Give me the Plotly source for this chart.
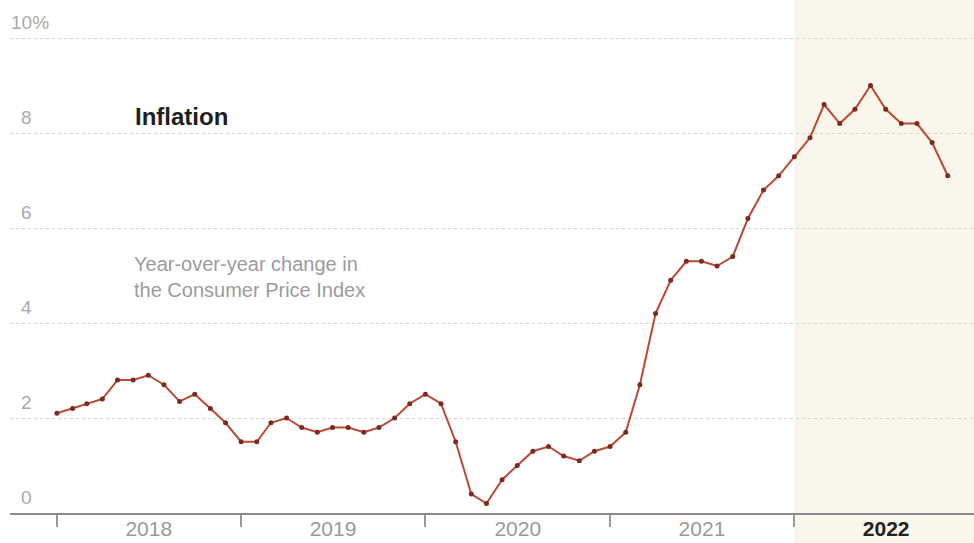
import plotly.graph_objects as go

# Monthly year-over-year CPI change, Jan 2018 - Nov 2022 (percent)
months = [f"{y}-{m:02d}-01" for y in range(2018, 2023) for m in range(1, 13)][:59]
cpi = [
    2.1, 2.2, 2.3, 2.4, 2.8, 2.8, 2.9, 2.7, 2.35, 2.5, 2.2, 1.9,  # 2018
    1.5, 1.5, 1.9, 2.0, 1.8, 1.7, 1.8, 1.8, 1.7, 1.8, 2.0, 2.3,   # 2019
    2.5, 2.3, 1.5, 0.4, 0.2, 0.7, 1.0, 1.3, 1.4, 1.2, 1.1, 1.3,   # 2020
    1.4, 1.7, 2.7, 4.2, 4.9, 5.3, 5.3, 5.2, 5.4, 6.2, 6.8, 7.1,   # 2021
    7.5, 7.9, 8.6, 8.2, 8.5, 9.0, 8.5, 8.2, 8.2, 7.8, 7.1,        # 2022
]

year_labels = ["2018", "2019", "2020", "2021", "2022"]
year_label_pos = [f"{y}-07-02" for y in year_labels]
year_starts = [f"{y}-01-01" for y in year_labels]
highlight_year = "2022"

y_ticks = [0, 2, 4, 6, 8, 10]
y_tick_text = ["0", "2", "4", "6", "8", "10%"]

title_text = "Inflation"
subtitle_text = "Year-over-year change in<br>the Consumer Price Index"

FONT = "Liberation Sans, Arial, sans-serif"

fig = go.Figure()

fig.add_trace(go.Scatter(
    x=months, y=cpi, mode="lines+markers",
    line=dict(color="#bb4a33", width=2),
    marker=dict(size=5, color="#7a2b20"),
    hoverinfo="x+y", showlegend=False,
))

# highlighted year band
fig.add_shape(type="rect", xref="x", yref="paper",
              x0=f"{highlight_year}-01-01", x1=f"{int(highlight_year)+1}-06-01",
              y0=-0.2, y1=1.2, fillcolor="#faf6ec", line_width=0, layer="below")

ticktext = [
    (f'<span style="color:#222"><b>{t}</b></span>' if t == highlight_year else t)
    for t in year_labels
]

fig.update_xaxes(
    type="date",
    range=["2017-09-30", "2022-12-23"],
    tickvals=year_label_pos, ticktext=ticktext,
    ticks="", showgrid=False,
    tickfont=dict(family=FONT, size=21, color="#9a9a9a"),
    ticklabelstandoff=-4,
    showline=True, linecolor="#8a8a8a", linewidth=1.5,
    minor=dict(tickvals=year_starts, ticks="outside", ticklen=12,
               tickcolor="#9a9a9a", tickwidth=1.5, showgrid=False),
    zeroline=False, fixedrange=True,
)
fig.update_yaxes(
    range=[0, 10.59],
    tickvals=y_ticks[1:], showticklabels=False, ticks="",
    showgrid=True, gridcolor="#d4d4d4", gridwidth=1, griddash="dot",
    zeroline=False, fixedrange=True,
)

for v, t in zip(y_ticks, y_tick_text):
    shift = 24 + (17 if t.endswith("%") else 0)
    fig.add_annotation(xref="paper", yref="y", x=0, y=v, text=t,
                       xanchor="right", yanchor="bottom", xshift=shift, yshift=3,
                       showarrow=False,
                       font=dict(family=FONT, size=19, color="#ababab"))

fig.add_annotation(xref="paper", yref="y", x=(133 - 10) / 964, y=8.34,
                   text=f"<b>{title_text}</b>", xanchor="left", yanchor="middle",
                   showarrow=False, font=dict(family=FONT, size=24, color="#1e1e1e"))
fig.add_annotation(xref="paper", yref="y", x=(132 - 10) / 964, y=4.97,
                   text=subtitle_text, xanchor="left", yanchor="middle", align="left",
                   showarrow=False, font=dict(family=FONT, size=20, color="#9c9c9c"))

fig.update_layout(
    width=974, height=543,
    margin=dict(l=10, r=0, t=10, b=30),
    paper_bgcolor="white", plot_bgcolor="white",
    font=dict(family=FONT),
)

fig.write_html("out.html")
